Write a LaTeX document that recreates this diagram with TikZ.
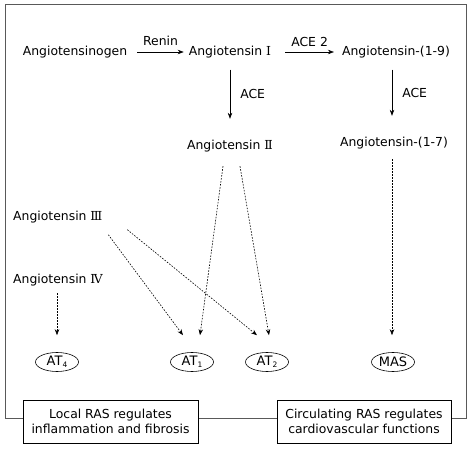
\documentclass[tikz,border=0pt]{standalone}
\usepackage{fontspec}
\setmainfont{DejaVu Sans}
\newfontfamily\romfont{DejaVu Serif}
\usetikzlibrary{arrows.meta,shapes.geometric}
\tikzset{
  lbl/.style={font=\fontsize{12.4}{14}\selectfont, inner sep=2pt},
  rcpt/.style={ellipse, draw, line width=0.6pt, minimum width=43pt, minimum height=19pt, inner sep=0pt, font=\fontsize{13}{14}\selectfont},
  arr/.style={line width=0.6pt, -{Stealth[length=6pt,width=4.5pt]}},
  darr/.style={line width=0.6pt, dash pattern=on 1.6pt off 1.4pt, -{Stealth[length=6pt,width=4.5pt]}},
  capbox/.style={draw, line width=0.6pt, fill=white, minimum width=175pt, minimum height=43pt, align=center, font=\fontsize{12.4}{15.5}\selectfont},
}
\newcommand{\rn}[1]{{\romfont #1}}
\newcommand{\subd}[1]{\raisebox{-0.3ex}{\fontsize{7.5}{8}\selectfont #1}}
\begin{document}
\begin{tikzpicture}[x=1pt,y=-1pt]
\useasboundingbox (0,0) rectangle (472,450);
\draw[line width=0.8pt, draw=black!65] (5,4) rectangle (466,418);
\node[lbl] (ag)  at (75,52)  {Angiotensinogen};
\node[lbl] (a1)  at (230,52) {Angiotensin \rn{Ⅰ}};
\node[lbl] (a19) at (396,52) {Angiotensin-(1-9)};
\node[lbl] (a2)  at (230,146) {Angiotensin \rn{Ⅱ}};
\node[lbl] (a17) at (394,143) {Angiotensin-(1-7)};
\node[lbl, anchor=west] (a3) at (11,217) {Angiotensin \rn{Ⅲ}};
\node[lbl, anchor=west] (a4) at (11,280) {Angiotensin \rn{Ⅳ}};
\node[rcpt] (at4) at (57,362)  {AT\subd{4}};
\node[rcpt] (at1) at (192,362) {AT\subd{1}};
\node[rcpt] (at2) at (267,362) {AT\subd{2}};
\node[rcpt] (mas) at (393,362) {MAS};
\node[capbox] (loc) at (110.5,421.5) {Local RAS regulates\\inflammation and fibrosis};
\node[capbox, minimum width=174pt] (circ) at (364,421.5) {Circulating RAS regulates\\cardiovascular functions};
% solid arrows
\draw[arr] ([xshift=8pt]ag.east) -- node[lbl, above=4pt] (renin) {Renin} ([xshift=-3pt]a1.west);
\draw[arr] ([xshift=12pt]a1.east) -- node[lbl, above=3pt] (ace2) {ACE 2} ([xshift=-6pt]a19.west);
\draw[arr] ([yshift=-9.5pt]a1.south) -- node[lbl, right=8pt] (ace1) {ACE} ([yshift=19pt]a2.north);
\draw[arr] ([xshift=-4pt,yshift=-9.5pt]a19.south) -- node[lbl, right=8pt] (ace3) {ACE} ([xshift=-2pt,yshift=19pt]a17.north);
% dashed
\draw[darr] ([xshift=-7pt,yshift=-12pt]a2.south) -- ([xshift=8pt,yshift=17pt]at1.north);
\draw[darr] ([xshift=10pt,yshift=-12pt]a2.south) -- ([xshift=2pt,yshift=17pt]at2.north);
\draw[darr] ([xshift=50.5pt,yshift=-9.5pt]a3.south) -- ([xshift=-9pt,yshift=17pt]at1.north);
\draw[darr] ([xshift=69.5pt,yshift=-4.5pt]a3.south) -- ([xshift=-10pt,yshift=17pt]at2.north);
\draw[darr] ([yshift=-5pt]at4.north |- a4.south) -- ([yshift=17pt]at4.north);
\draw[darr] ([xshift=-2pt,yshift=-8pt]a17.south) -- ([xshift=-1pt,yshift=17pt]mas.north);
\end{tikzpicture}
\end{document}
